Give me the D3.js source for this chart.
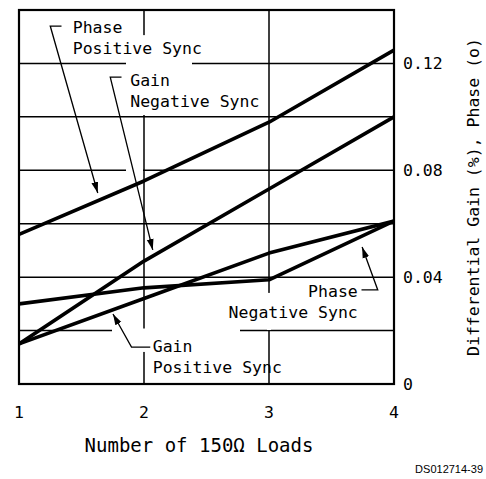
<!DOCTYPE html>
<html>
<head>
<meta charset="utf-8">
<script src="https://cdn.jsdelivr.net/npm/d3@7"></script>
<style>
  body { margin: 0; background: #fff; }
  text { font-family: "DejaVu Sans Mono", monospace; font-size: 16.5px; fill: #000; }
</style>
</head>
<body>
<svg width="486" height="479"></svg>
<script>
// data
const loads = [1, 2, 3, 4];
const phasePositive = [0.056, 0.076, 0.098, 0.125];
const gainNegative = [0.015, 0.046, 0.073, 0.100];
const phaseNegative = [0.030, 0.036, 0.039, 0.061];
const gainPositive = [0.015, 0.032, 0.049, 0.061];
const xTicks = [1, 2, 3, 4];
const yGrid = [0.02, 0.04, 0.06, 0.08, 0.10, 0.12];
const yLabels = [0, 0.04, 0.08, 0.12];

const series = [phasePositive, gainNegative, phaseNegative, gainPositive];

// callouts: text lines, anchor, leader path (data units)
const callouts = [
  { lines: ["Phase", "Positive Sync"], at: [1.43, 0.1314], anchor: "start",
    leader: [[1.34, 0.134], [1.25, 0.134], [1.63, 0.0715]] },
  { lines: ["Gain", "Negative Sync"], at: [1.89, 0.1115], anchor: "start",
    leader: [[1.82, 0.1149], [1.73, 0.1149], [2.07, 0.0502]] },
  { lines: ["Phase", "Negative Sync"], at: [3.71, 0.0326], anchor: "end",
    leader: [[3.74, 0.0352], [3.87, 0.0352], [3.745, 0.0513]] },
  { lines: ["Gain", "Positive Sync"], at: [2.07, 0.0120], anchor: "start",
    leader: [[2.05, 0.0138], [1.90, 0.0138], [1.752, 0.0262]] }
];

// places where the grid is blanked out around the labels
const gridBreaks = [
  { h: 0.12, from: 1.856, to: 2.384 },
  { h: 0.08, from: 1.856, to: 1.992 },
  { h: 0.02, from: 1.744, to: 2.768 },
  { v: 2, from: 0.1306, to: 0.1007 },
  { v: 2, from: 0.0202, to: 0.0120 },
  { v: 3, from: 0.0341, to: 0.0202 }
];

const svg = d3.select("svg");
const L = 19, R = 394, T = 10, B = 384;

const x = d3.scaleLinear().domain([1, 4]).range([L, R]);
const y = d3.scaleLinear().domain([0, 0.14]).range([B, T]);

svg.append("defs").append("clipPath").attr("id", "plot")
  .append("rect").attr("x", L).attr("y", T).attr("width", R - L).attr("height", B - T);

svg.append("defs").append("marker")
  .attr("id", "arrow").attr("viewBox", "0 0 10 10")
  .attr("refX", 10).attr("refY", 5)
  .attr("markerWidth", 11).attr("markerHeight", 11)
  .attr("markerUnits", "userSpaceOnUse")
  .attr("orient", "auto")
  .append("path").attr("d", "M0,1.9 L10,5 L0,8.1 Z").attr("fill", "#000");

// grid
const grid = svg.append("g").attr("stroke", "#000").attr("stroke-width", 1.5);
grid.selectAll(".hg").data(yGrid).join("line")
  .attr("x1", L).attr("x2", R).attr("y1", d => y(d)).attr("y2", d => y(d));
grid.selectAll(".vg").data(xTicks.slice(1, -1)).join("line")
  .attr("x1", d => x(d)).attr("x2", d => x(d)).attr("y1", T).attr("y2", B);

svg.append("g").attr("stroke", "#fff").attr("stroke-width", 4)
  .selectAll("line").data(gridBreaks).join("line")
  .attr("x1", d => d.h !== undefined ? x(d.from) : x(d.v))
  .attr("x2", d => d.h !== undefined ? x(d.to) : x(d.v))
  .attr("y1", d => d.h !== undefined ? y(d.h) : y(d.from))
  .attr("y2", d => d.h !== undefined ? y(d.h) : y(d.to));

// curves
const line = d3.line().x((d, i) => x(loads[i])).y(d => y(d));
svg.append("g").attr("clip-path", "url(#plot)")
  .selectAll("path").data(series).join("path")
  .attr("d", line)
  .attr("fill", "none").attr("stroke", "#000")
  .attr("stroke-width", 3.6).attr("stroke-linejoin", "round");

// callouts
const cg = svg.append("g");
callouts.forEach(c => {
  const t = cg.append("text")
    .attr("x", x(c.at[0])).attr("y", y(c.at[1]))
    .attr("text-anchor", c.anchor);
  c.lines.forEach((s, i) => {
    t.append("tspan").attr("x", x(c.at[0])).attr("dy", i ? 21 : 0).text(s);
  });
});

const lead = d3.line().x(d => x(d[0])).y(d => y(d[1]));
cg.selectAll("path").data(callouts).join("path")
  .attr("d", d => lead(d.leader))
  .attr("fill", "none").attr("stroke", "#000").attr("stroke-width", 1.3)
  .attr("marker-end", "url(#arrow)");

// frame
svg.append("rect").attr("x", L).attr("y", T).attr("width", R - L).attr("height", B - T)
  .attr("fill", "none").attr("stroke", "#000").attr("stroke-width", 2.2);

// x axis labels
svg.append("g").selectAll("text").data(xTicks).join("text")
  .attr("x", d => x(d)).attr("y", 418)
  .attr("text-anchor", "middle").text(d => d);

// y axis labels (right)
svg.append("g").selectAll("text").data(yLabels).join("text")
  .attr("x", 403).attr("y", d => y(d) + 6)
  .text(d => d === 0 ? "0" : d.toFixed(2));

svg.append("text")
  .attr("transform", `translate(479,${(T + B) / 2}) rotate(-90)`)
  .attr("text-anchor", "middle")
  .text("Differential Gain (%), Phase (o)");

svg.append("text")
  .attr("x", 199).attr("y", 452)
  .attr("text-anchor", "middle")
  .style("font-size", "19px")
  .text("Number of 150Ω Loads");

svg.append("text")
  .attr("x", 483).attr("y", 473)
  .attr("text-anchor", "end")
  .style("font-family", "'Liberation Sans', Arial, sans-serif")
  .style("font-size", "11px")
  .text("DS012714-39");
</script>
</body>
</html>
